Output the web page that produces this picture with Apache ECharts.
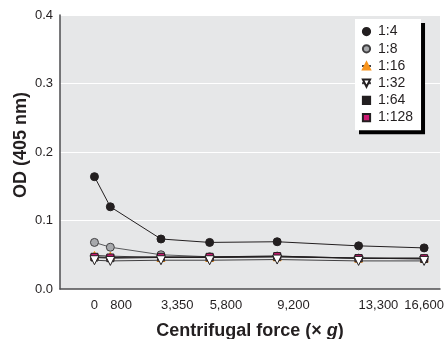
<!DOCTYPE html>
<html><head><meta charset="utf-8">
<script src="https://cdn.jsdelivr.net/npm/echarts@6/dist/echarts.min.js"></script>
<style>html,body{margin:0;padding:0;background:#fff}#c{width:446px;height:339px}</style>
</head><body><div id="c"></div>
<script>
const xValues = [0, 800, 3350, 5800, 9200, 13300, 16600];
const xTickLabels = ['0', '800', '3,350', '5,800', '9,200', '13,300', '16,600'];
const yTicks = [0, 0.1, 0.2, 0.3, 0.4];
const seriesNames = ['1:4', '1:8', '1:16', '1:32', '1:64', '1:128'];
const s1_4   = [0.164, 0.120, 0.073, 0.068, 0.069, 0.063, 0.060];
const s1_8   = [0.068, 0.061, 0.050, 0.047, 0.048, 0.045, 0.044];
const s1_16  = [0.049, 0.048, 0.046, 0.046, 0.047, 0.045, 0.045];
const s1_32  = [0.042, 0.041, 0.042, 0.042, 0.043, 0.041, 0.041];
const s1_64  = [0.046, 0.045, 0.046, 0.046, 0.047, 0.045, 0.044];
const s1_128 = [0.047, 0.046, 0.047, 0.047, 0.048, 0.045, 0.045];

const FONT = "'Liberation Sans Narrow','Arial Narrow','Liberation Sans',Arial,sans-serif";
const INK = '#231f20';
const pair = arr => xValues.map((x, i) => [x, arr[i]]);

const styles = [
  {symbol: 'circle', size: 8, color: INK, border: INK, line: INK, rot: 0},
  {symbol: 'circle', size: 8, color: '#a7a9ac', border: '#414042', line: '#58595b', rot: 0},
  {symbol: 'triangle', size: 8, color: '#f7941d', border: '#f7941d', line: '#414042', rot: 0},
  {symbol: 'triangle', size: 9, color: '#ffffff', border: INK, line: '#414042', rot: 180},
  {symbol: 'rect', size: 7, color: INK, border: INK, line: INK, rot: 0},
  {symbol: 'rect', size: 7, color: '#cc1a72', border: INK, line: INK, rot: 0}
];
const data = [s1_4, s1_8, s1_16, s1_32, s1_64, s1_128];
const drawOrder = [0, 1, 2, 4, 5, 3];

const series = drawOrder.map((k, j) => ({
  name: seriesNames[k],
  type: 'line',
  data: pair(data[k]),
  symbol: styles[k].symbol,
  symbolSize: styles[k].size,
  symbolRotate: styles[k].rot,
  showAllSymbol: true,
  z: 2 + j,
  lineStyle: {color: styles[k].line, width: 1},
  itemStyle: {color: styles[k].color, borderColor: styles[k].border, borderWidth: 1, opacity: 1},
  emphasis: {disabled: true},
  animation: false
}));

const chart = echarts.init(document.getElementById('c'), null, {renderer: 'canvas'});
chart.setOption({
  animation: false,
  textStyle: {fontFamily: FONT},
  grid: {left: 60, right: 6, top: 15, bottom: 50, show: true, backgroundColor: '#e6e7e8', borderWidth: 0, containLabel: false, outerBoundsMode: 'none'},
  legend: {
    orient: 'vertical',
    data: seriesNames,
    left: 355, top: 19,
    padding: [4, 8, 4, 6],
    itemWidth: 9, itemHeight: 9, itemGap: 0,
    backgroundColor: '#ffffff',
    shadowColor: '#000000', shadowBlur: 0, shadowOffsetX: 4, shadowOffsetY: 4,
    textStyle: {fontFamily: FONT, fontSize: 14, color: INK, lineHeight: 17.2, padding: [0, 0, 0, 2]}
  },
  xAxis: {
    type: 'value',
    min: -1735, max: 17400,
    splitLine: {show: false},
    axisTick: {show: false},
    axisLine: {onZero: false, lineStyle: {color: '#4d4d4f', width: 1.5}},
    axisLabel: {
      customValues: xValues,
      formatter: v => xTickLabels[xValues.indexOf(v)],
      fontFamily: FONT, fontSize: 13, color: INK, margin: 10,
      interval: 0, hideOverlap: false,
      align: 'left', alignMinLabel: 'center', alignMaxLabel: 'center',
      showMinLabel: true, showMaxLabel: true
    },
    name: '{b|Centrifugal force (× }{i|g}{b|)}',
    nameLocation: 'middle', nameGap: 33, nameMoveOverlap: false,
    nameTextStyle: {
      rich: {
        b: {fontFamily: FONT, fontWeight: 'bold', fontSize: 18, color: INK},
        i: {fontFamily: FONT, fontWeight: 'bold', fontStyle: 'italic', fontSize: 18, color: INK}
      }
    }
  },
  yAxis: {
    type: 'value',
    min: yTicks[0], max: yTicks[yTicks.length - 1], interval: 0.1,
    splitLine: {show: true, lineStyle: {color: '#ffffff', width: 1}},
    axisTick: {show: false},
    axisLine: {show: true, onZero: false, lineStyle: {color: '#4d4d4f', width: 1.5}},
    axisLabel: {fontFamily: FONT, fontSize: 13, color: INK, margin: 7, formatter: v => v.toFixed(1)},
    name: 'OD (405 nm)',
    nameLocation: 'middle', nameGap: 30, nameMoveOverlap: false,
    nameTextStyle: {fontFamily: FONT, fontWeight: 'bold', fontSize: 18, color: INK, padding: [0, 0, 0, 14]}
  },
  series: series
});
</script></body></html>
